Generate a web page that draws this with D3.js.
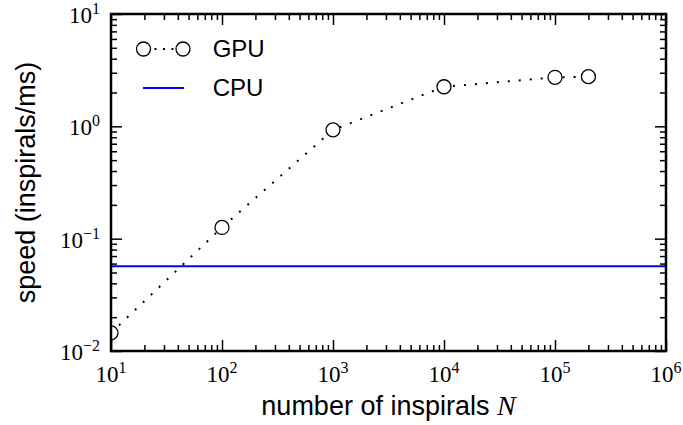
<!DOCTYPE html>
<html>
<head>
<meta charset="utf-8">
<script src="https://cdn.jsdelivr.net/npm/d3@7"></script>
<style>
  body { margin: 0; background: #fff; }
  svg { display: block; }
</style>
</head>
<body>
<div id="chart"></div>
<script>
// number of inspirals N and measured speeds (inspirals/ms)
const inspirals = [10, 100, 1000, 10000, 100000, 200000];
const gpuSpeed = [0.0145, 0.126, 0.93, 2.25, 2.73, 2.77];
const cpuSpeed = 0.0568;

const xDecades = [1e1, 1e2, 1e3, 1e4, 1e5, 1e6];
const yDecades = [1e-2, 1e-1, 1e0, 1e1];
const xExponents = ['1', '2', '3', '4', '5', '6'];
const yExponents = ['\u22122', '\u22121', '0', '1'];

const width = 683, height = 425;
const margin = { top: 14, right: 17, bottom: 74, left: 111 };
const plotW = width - margin.left - margin.right;
const plotH = height - margin.top - margin.bottom;

const svg = d3.select('#chart').append('svg')
    .attr('width', width)
    .attr('height', height);

const x = d3.scaleLog().domain([1e1, 1e6]).range([0, plotW]);
const y = d3.scaleLog().domain([1e-2, 1e1]).range([plotH, 0]);

// minor ticks 2..9 of each decade
function minorTicks(decades) {
    const out = [];
    decades.slice(0, -1).forEach(d => {
        for (let k = 2; k <= 9; k++) out.push(d * k);
    });
    return out;
}

const g = svg.append('g')
    .attr('transform', `translate(${margin.left},${margin.top})`);

g.append('clipPath').attr('id', 'clip')
    .append('rect').attr('width', plotW).attr('height', plotH);

const plot = g.append('g').attr('clip-path', 'url(#clip)');

// CPU line
plot.append('line')
    .attr('x1', 0).attr('x2', plotW)
    .attr('y1', y(cpuSpeed)).attr('y2', y(cpuSpeed))
    .attr('stroke', '#0000ff')
    .attr('stroke-width', 2);

// GPU dotted line + markers
const line = d3.line()
    .x((d, i) => x(inspirals[i]))
    .y(d => y(d));

plot.append('path')
    .datum(gpuSpeed)
    .attr('d', line)
    .attr('fill', 'none')
    .attr('stroke', '#000')
    .attr('stroke-width', 2)
    .attr('stroke-dasharray', '2,9');

plot.selectAll('circle.gpu')
    .data(gpuSpeed)
    .enter().append('circle')
    .attr('class', 'gpu')
    .attr('cx', (d, i) => x(inspirals[i]))
    .attr('cy', d => y(d))
    .attr('r', 7)
    .attr('fill', '#fff')
    .attr('stroke', '#000')
    .attr('stroke-width', 1.3);

// axes: ticks on all four sides, pointing in
function styleAxis(sel) {
    sel.select('.domain').remove();
    sel.selectAll('.tick line').attr('stroke', '#000').attr('stroke-width', 1.5);
    sel.selectAll('.tick text').remove();
}

const sides = [
    [d3.axisBottom, x, `translate(0,${plotH})`, xDecades],
    [d3.axisTop, x, 'translate(0,0)', xDecades],
    [d3.axisLeft, y, 'translate(0,0)', yDecades],
    [d3.axisRight, y, `translate(${plotW},0)`, yDecades]
];
sides.forEach(([makeAxis, scale, tr, decades]) => {
    // major
    g.append('g').attr('transform', tr)
        .call(makeAxis(scale).tickValues(decades).tickSize(-11).tickFormat(''))
        .call(styleAxis);
    // minor
    g.append('g').attr('transform', tr)
        .call(makeAxis(scale).tickValues(minorTicks(decades)).tickSize(-6).tickFormat(''))
        .call(styleAxis);
});

// frame
g.append('rect')
    .attr('width', plotW).attr('height', plotH)
    .attr('fill', 'none')
    .attr('stroke', '#000')
    .attr('stroke-width', 2.5);

// tick labels as 10^n
function powerLabel(sel, exp) {
    sel.append('tspan').text('10');
    sel.append('tspan')
        .attr('dy', -9)
        .attr('font-size', 16)
        .text(exp);
}

g.selectAll('text.xlab')
    .data(xDecades)
    .enter().append('text')
    .attr('class', 'xlab')
    .attr('x', d => x(d))
    .attr('y', plotH + 31)
    .attr('text-anchor', 'middle')
    .attr('font-family', 'Liberation Serif, serif')
    .attr('font-size', 23)
    .each(function(d, i) { powerLabel(d3.select(this), xExponents[i]); });

g.selectAll('text.ylab')
    .data(yDecades)
    .enter().append('text')
    .attr('class', 'ylab')
    .attr('x', -11)
    .attr('y', d => y(d) + 9)
    .attr('text-anchor', 'end')
    .attr('font-family', 'Liberation Serif, serif')
    .attr('font-size', 23)
    .each(function(d, i) { powerLabel(d3.select(this), yExponents[i]); });

// axis titles
const xTitle = svg.append('text')
    .attr('x', margin.left + plotW / 2)
    .attr('y', 415)
    .attr('text-anchor', 'middle')
    .attr('font-family', 'Liberation Sans, Arial, sans-serif')
    .attr('font-size', 27)
    .text('number of inspirals ');
xTitle.append('tspan')
    .attr('font-family', 'Liberation Serif, serif')
    .attr('font-style', 'italic')
    .attr('font-size', 28)
    .text('N');

svg.append('text')
    .attr('transform', `translate(35,${margin.top + plotH / 2}) rotate(-90)`)
    .attr('text-anchor', 'middle')
    .attr('font-family', 'Liberation Sans, Arial, sans-serif')
    .attr('font-size', 27)
    .text('speed (inspirals/ms)');

// legend
const legend = svg.append('g');
legend.append('line')
    .attr('x1', 143.5).attr('x2', 183).attr('y1', 49).attr('y2', 49)
    .attr('stroke', '#000').attr('stroke-width', 2)
    .attr('stroke-dasharray', '2,6.5')
    .attr('stroke-dashoffset', -11);
legend.selectAll('circle')
    .data([143.5, 183])
    .enter().append('circle')
    .attr('cx', d => d).attr('cy', 49).attr('r', 7)
    .attr('fill', '#fff').attr('stroke', '#000').attr('stroke-width', 1.3);
legend.append('line')
    .attr('x1', 143).attr('x2', 184).attr('y1', 88).attr('y2', 88)
    .attr('stroke', '#0000ff').attr('stroke-width', 2);
legend.selectAll('text')
    .data([['GPU', 57.3], ['CPU', 96]])
    .enter().append('text')
    .attr('x', 212.7)
    .attr('y', d => d[1])
    .attr('font-family', 'Liberation Sans, Arial, sans-serif')
    .attr('font-size', 24)
    .text(d => d[0]);
</script>
</body>
</html>
